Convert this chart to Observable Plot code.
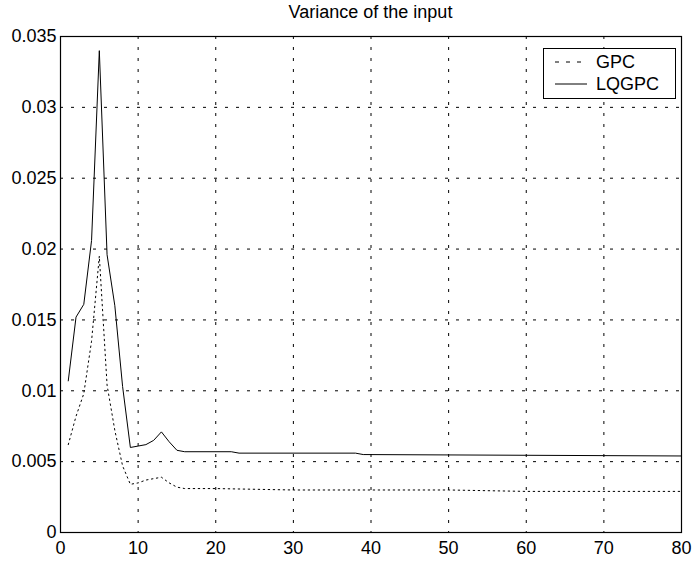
<!DOCTYPE html>
<html><head><meta charset="utf-8">
<script src="https://cdn.jsdelivr.net/npm/d3@7"></script>
<script src="https://cdn.jsdelivr.net/npm/@observablehq/plot@0.6"></script>
<style>
body{margin:0;background:#fff;font-family:"Liberation Sans",Arial,sans-serif;}
#wrap{position:relative;width:696px;height:567px;}
#title{height:24px;line-height:24px;margin-left:60px;width:621px;text-align:center;font-size:18px;color:#000;}
#legend{position:absolute;left:543px;top:48px;}
</style></head><body>
<div id="wrap">
<div id="title">Variance of the input</div>
<div id="chart"></div>
<div id="legend"></div>
</div>
<script>
// ---- data ----
const seriesNames = ["GPC", "LQGPC"];
const gpcX = [1,2,3,4,5,6,7,8,9,10,11,12,13,14,15,16,20,30,40,50,60,70,80];
const gpcY = [0.0062,0.0082,0.0098,0.0135,0.0195,0.0104,0.0072,0.0047,0.0034,0.0035,0.0037,0.0038,0.0039,0.0035,0.0032,0.0031,0.0031,0.0030,0.0030,0.0030,0.0029,0.0029,0.0029];
const lqgpcX = [1,2,3,4,5,6,7,8,9,10,11,12,13,14,15,16,22,23,38,39,80];
const lqgpcY = [0.0107,0.0152,0.0161,0.0206,0.0340,0.0196,0.0160,0.0103,0.0060,0.0061,0.0062,0.0065,0.0071,0.0064,0.0058,0.0057,0.0057,0.0056,0.0056,0.0055,0.0054];
const xTicks = [0,10,20,30,40,50,60,70,80];
const yTicks = [0,0.005,0.01,0.015,0.02,0.025,0.03,0.035];

const gpc = gpcX.map((x,i)=>({x, y: gpcY[i]}));
const lqgpc = lqgpcX.map((x,i)=>({x, y: lqgpcY[i]}));
const fmtY = d => d === 0 ? "0" : String(+d.toFixed(3));

const chart = Plot.plot({
  width: 696,
  height: 543,
  marginLeft: 60,
  marginRight: 15,
  marginTop: 12,
  marginBottom: 35,
  style: {fontFamily: "'Liberation Sans', Arial, sans-serif", fontSize: "18px", color: "#000", background: "#fff"},
  x: {domain: [0, 80]},
  y: {domain: [0, 0.035]},
  marks: [
    Plot.gridX(xTicks.slice(1, -1), {stroke: "#000", strokeOpacity: 1, strokeDasharray: "3,8"}),
    Plot.gridY(yTicks.slice(1, -1), {stroke: "#000", strokeOpacity: 1, strokeDasharray: "3,8"}),
    Plot.axisX(xTicks, {tickSize: 0, tickPadding: 9, fontSize: 18, label: null}),
    Plot.axisY(yTicks, {tickSize: 0, tickPadding: 4, fontSize: 18, label: null, tickFormat: fmtY}),
    Plot.line(gpc, {x: "x", y: "y", stroke: "#000", strokeWidth: 1, strokeDasharray: "1.5,3.5"}),
    Plot.line(lqgpc, {x: "x", y: "y", stroke: "#000", strokeWidth: 1}),
    Plot.frame({stroke: "#000", strokeWidth: 1.2})
  ]
});
document.getElementById("chart").appendChild(chart);

// ---- legend ----
const lg = d3.select("#legend").append("svg").attr("width", 134).attr("height", 52)
  .style("font-family", "'Liberation Sans', Arial, sans-serif");
lg.append("rect").attr("x", 0.5).attr("y", 0.5).attr("width", 132).attr("height", 50)
  .attr("fill", "#fff").attr("stroke", "#000");
const styles = ["4,7", null];
seriesNames.forEach((name, i) => {
  const cy = 14 + i * 22;
  const ln = lg.append("line").attr("x1", 12).attr("x2", 44).attr("y1", cy).attr("y2", cy)
    .attr("stroke", "#000").attr("stroke-width", 1);
  if (styles[i]) ln.attr("stroke-dasharray", styles[i]);
  lg.append("text").attr("x", 53).attr("y", cy + 6).attr("font-size", 18).text(name);
});
</script>
</body></html>
